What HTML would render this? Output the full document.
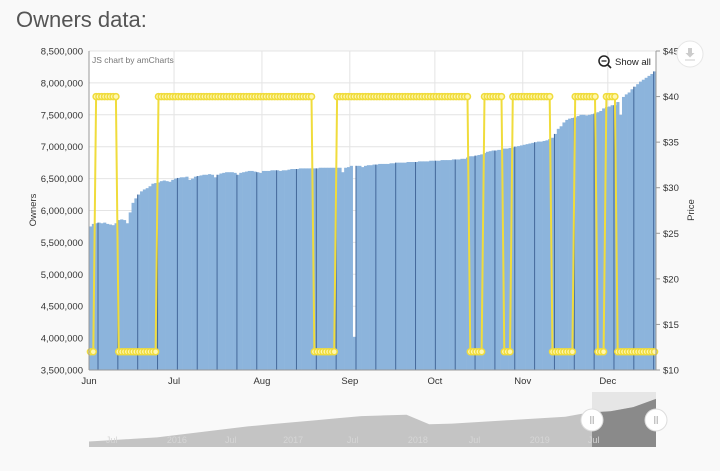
<!DOCTYPE html>
<html><head><meta charset="utf-8"><style>
html,body{margin:0;padding:0;background:#f9f9f9;width:720px;height:471px;overflow:hidden;font-family:"Liberation Sans",sans-serif}
svg text{font-family:"Liberation Sans",sans-serif}
</style></head><body>
<svg id="c" width="720" height="471" xmlns="http://www.w3.org/2000/svg">
<text x="16" y="27" font-size="22" fill="#555" font-weight="300">Owners data:</text>
<g id="grid"></g><g id="bars"></g><g id="price"></g><g id="axes"></g><g id="nav"></g>
<text x="92" y="63" font-size="8.5" fill="#777">JS chart by amCharts</text>
<g>
<circle cx="604" cy="61" r="5" fill="none" stroke="#222" stroke-width="1.5"/><line x1="608" y1="65" x2="611" y2="68" stroke="#222" stroke-width="1.6"/><line x1="601.5" y1="61" x2="606.5" y2="61" stroke="#222" stroke-width="1.3"/>
<text x="615" y="65" font-size="9.5" fill="#222">Show all</text></g>
<g>
<circle cx="690" cy="54" r="13" fill="#fff" stroke="#e6e6e6"/><path d="M688 48h4v5h2.5l-4.5 4.5-4.5-4.5h2.5z" fill="#ccc"/><line x1="685" y1="60" x2="695" y2="60" stroke="#ccc"/></g>
<text transform="translate(36,210) rotate(-90)" font-size="9.5" fill="#333" text-anchor="middle">Owners</text>
<text transform="translate(694,210) rotate(-90)" font-size="9.5" fill="#333" text-anchor="middle">Price</text>
</svg>
<script>
const ownersK=[5750,5790,5800,5810,5800,5810,5790,5780,5770,5800,5850,5860,5850,5800,5970,6120,6190,6250,6300,6330,6350,6380,6420,6430,6440,6460,6470,6460,6450,6480,
6500,6510,6520,6520,6530,6480,6500,6530,6540,6550,6560,6560,6570,6560,6520,6560,6580,6590,6600,6600,6600,6590,6560,6590,6600,6610,6620,6620,6610,6600,6590,
6620,6620,6620,6630,6630,6630,6620,6630,6630,6640,6650,6650,6650,6660,6660,6660,6660,6660,6660,6660,6670,6670,6670,6670,6670,6670,6670,6670,6600,6670,6680,
6700,4020,6700,6700,6680,6700,6710,6710,6720,6720,6730,6730,6730,6730,6740,6740,6750,6750,6750,6750,6760,6760,6760,6760,6770,6770,6770,6770,6780,6780,
6780,6780,6790,6790,6790,6790,6800,6800,6800,6810,6810,6830,6850,6850,6860,6870,6880,6900,6920,6930,6940,6940,6950,6950,6970,6970,6980,6990,7000,7010,7020,
7030,7040,7050,7060,7070,7080,7080,7090,7100,7120,7140,7200,7280,7320,7380,7420,7440,7450,7460,7480,7500,7500,7490,7500,7510,7520,7540,7560,7600,7620,
7630,7650,7650,7700,7500,7780,7820,7850,7900,7940,7980,8020,8050,8080,8110,8140,8180];
const priceRuns=[[12,2],[40,8],[12,14],[40,55],[12,8],[40,47],[12,5],[40,7],[12,3],[40,14],[12,8],[40,8],[12,3],[40,4],[12,14]];
const ownerTicks=[3500000,4000000,4500000,5000000,5500000,6000000,6500000,7000000,7500000,8000000,8500000];
const priceTicks=[10,15,20,25,30,35,40,45];
const monthLabels=["Jun","Jul","Aug","Sep","Oct","Nov","Dec"];
const monthStartDays=[0,30,61,92,122,153,183];
const navValues=[8,10,12,14,18,22,26,30,33,36,39,42,45,46,47,33,34,36,38,40,42,44,50,52,58,70];
const navLabels=["Jul","2016","Jul","2017","Jul","2018","Jul","2019","Jul"];
const navLabelPos=[0.04,0.155,0.25,0.36,0.465,0.58,0.68,0.795,0.89];

const NS="http://www.w3.org/2000/svg";
const X0=89,X1=656,YT=51,YB=370,N=ownersK.length,bw=(X1-X0)/N;
const xd=d=>X0+d*bw;
const yo=v=>YB-(v-3500000)/(5000000)*(YB-YT);
const yp=v=>YB-(v-10)/35*(YB-YT);
function mk(p,tag,at){const e=document.createElementNS(NS,tag);for(const k in at)e.setAttribute(k,at[k]);p.appendChild(e);return e;}
const G=id=>document.getElementById(id);
const grid=G('grid'),bars=G('bars'),price=G('price'),axes=G('axes'),nav=G('nav');
mk(grid,'rect',{x:X0,y:YT,width:X1-X0,height:YB-YT,fill:'#fff'});
ownerTicks.forEach(t=>{const y=yo(t);
 const l=mk(grid,'line',{x1:X0,x2:X1,y1:y,y2:y,stroke:'#e4e4e4'});
 
 const tx=mk(axes,'text',{x:83,y:y+3.5,'font-size':9.5,fill:'#333','text-anchor':'end'});tx.textContent=t.toLocaleString('en-US');
 });
monthStartDays.forEach((d,i)=>{const x=xd(d);
 const l=mk(grid,'line',{x1:x,x2:x,y1:YT,y2:YB,stroke:'#e4e4e4'});
 
 const tx=mk(axes,'text',{x:x,y:384,'font-size':9.5,fill:'#333','text-anchor':'middle'});tx.textContent=monthLabels[i];
 });
ownersK.forEach((v,i)=>{const y=yo(v*1000);
 const r=mk(bars,'rect',{x:xd(i),y:y,width:bw+0.3,height:YB-y,fill:'#8cb4dc'});
 
 if(i%7==3){const l=mk(bars,'rect',{x:xd(i),y:y,width:1,height:YB-y,fill:'#44689a'});
  }});
const prices=[];priceRuns.forEach(([v,c])=>{for(let k=0;k<c;k++)prices.push(v);});
let pts=prices.map((v,i)=>(xd(i)+bw/2).toFixed(1)+','+yp(v).toFixed(1)).join(' ');
const pl=mk(price,'polyline',{points:pts,fill:'none',stroke:'#f0dc3c','stroke-width':2});

prices.forEach((v,i)=>{const c=mk(price,'circle',{cx:xd(i)+bw/2,cy:yp(v),r:3,fill:'#fff7b0',stroke:'#f0dc3c','stroke-width':1.5});
 });
mk(axes,'line',{x1:X0,x2:X0,y1:YT,y2:YB,stroke:'#999'});
mk(axes,'line',{x1:X1,x2:X1,y1:YT,y2:YB,stroke:'#999'});
mk(axes,'line',{x1:X0,x2:X1,y1:YB,y2:YB,stroke:'#999'});
priceTicks.forEach(t=>{const y=yp(t);mk(axes,'line',{x1:X1,x2:X1+4,y1:y,y2:y,stroke:'#999'});
 const tx=mk(axes,'text',{x:X1+7,y:y+3.5,'font-size':9.5,fill:'#333'});tx.textContent='$'+t;
 });
// navigator
const NT=392,NB=447,NS0=592;
mk(nav,'rect',{x:NS0,y:NT,width:X1-NS0,height:NB-NT,fill:'#e6e6e6'});
const nmax=80,ny=v=>NB-v/nmax*(NB-NT);
let np=`${X0},${NB} `+navValues.map((v,i)=>`${(X0+i*(X1-X0)/(navValues.length-1)).toFixed(1)},${ny(v).toFixed(1)}`).join(' ')+` ${X1},${NB}`;
const na=mk(nav,'polygon',{points:np,fill:'#c4c4c4'});
mk(nav,'clipPath',{id:'sel'});mk(nav.lastChild,'rect',{x:NS0,y:NT,width:X1-NS0,height:NB-NT});
mk(nav,'polygon',{points:np,fill:'#8a8a8a','clip-path':'url(#sel)'});
navLabels.forEach((s,i)=>{const t=mk(nav,'text',{x:X0+navLabelPos[i]*(X1-X0),y:443,'font-size':9,fill:'#d6d6d6','text-anchor':'middle'});t.textContent=s;
 });
[NS0,X1].forEach(x=>{const g=mk(nav,'g',{});
 
 mk(g,'circle',{cx:x,cy:420,r:11,fill:'#fff',stroke:'#ddd'});
 mk(g,'line',{x1:x-1.2,x2:x-1.2,y1:416,y2:424,stroke:'#aaa'});mk(g,'line',{x1:x+1.2,x2:x+1.2,y1:416,y2:424,stroke:'#aaa'});});
</script>
</body></html>
